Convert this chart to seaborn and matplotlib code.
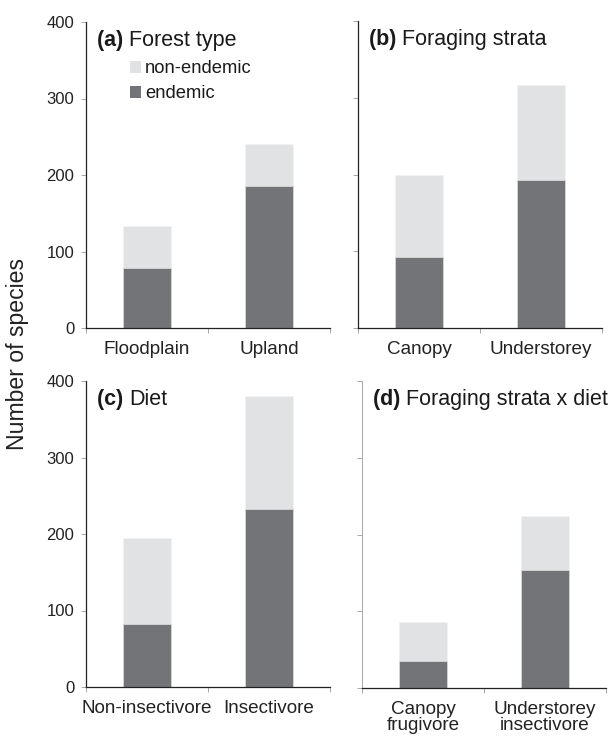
import matplotlib
matplotlib.use("Agg")
import matplotlib.pyplot as plt
from matplotlib.patches import Patch
from matplotlib.ticker import FixedLocator
import seaborn as sns

sns.set_theme(style="white")
plt.rcParams["font.family"] = ["Liberation Sans", "DejaVu Sans"]

# Species counts per group: total richness and endemic subset
forest_cats = ["Floodplain", "Upland"]
forest_total = [133, 240]
forest_endemic = [78, 185]

strata_cats = ["Canopy", "Understorey"]
strata_total = [200, 316]
strata_endemic = [92, 193]

diet_cats = ["Non-insectivore", "Insectivore"]
diet_total = [195, 380]
diet_endemic = [82, 233]

combo_cats = ["Canopy\nfrugivore", "Understorey\ninsectivore"]
combo_total = [86, 224]
combo_endemic = [35, 154]

panel_titles = [("(a)", "Forest type"), ("(b)", "Foraging strata"),
                ("(c)", "Diet"), ("(d)", "Foraging strata x diet")]
y_ticks = [0, 100, 200, 300, 400]
legend_labels = ["non-endemic", "endemic"]

LIGHT = "#e1e2e4"
DARK = "#737478"
AXIS = "#222222"

W, H = 611, 738
fig = plt.figure(figsize=(W / 100, H / 100), dpi=100)


def px_axes(x0, y0, x1, y1):
    return fig.add_axes([x0 / W, 1 - y1 / H, (x1 - x0) / W, (y1 - y0) / H])


axes = [
    px_axes(86, 22, 330, 328),
    px_axes(358, 21, 602, 328),
    px_axes(86, 381, 330, 687),
    px_axes(362, 381, 606, 688),
]

panels = [
    (forest_cats, forest_total, forest_endemic),
    (strata_cats, strata_total, strata_endemic),
    (diet_cats, diet_total, diet_endemic),
    (combo_cats, combo_total, combo_endemic),
]

for i, (ax, (cats, tot, end)) in enumerate(zip(axes, panels)):
    sns.barplot(x=cats, y=tot, color=LIGHT, width=0.4, saturation=1,
                edgecolor="#f2f2f2", linewidth=0.6, ax=ax)
    sns.barplot(x=cats, y=end, color=DARK, width=0.4, saturation=1,
                edgecolor="#d8d8d8", linewidth=0.6, ax=ax)
    ax.set_xlim(-0.5, 1.5)
    ax.set_ylim(0, 400)
    ax.set_xlabel("")
    ax.set_ylabel("")
    for side in ("top", "right"):
        ax.spines[side].set_visible(False)
    ax.spines["bottom"].set_color(AXIS)
    ax.spines["bottom"].set_linewidth(0.9)
    left_col = "#a8a8a8" if i == 3 else AXIS
    ax.spines["left"].set_color(left_col)
    ax.spines["left"].set_linewidth(0.9 if i != 3 else 0.7)

    # category labels centred, small tick marks at category boundaries
    ax.xaxis.set_minor_locator(FixedLocator([-0.5, 0.5, 1.5]))
    ax.tick_params(axis="x", which="major", length=0, pad=9.3,
                   labelsize=13.6, labelcolor="#222222")
    for lbl in ax.get_xticklabels():
        lbl.set_linespacing(0.95)
    ax.tick_params(axis="x", which="minor", length=3.5, width=0.6,
                   color="#999999", direction="out", bottom=True)
    ax.set_yticks(y_ticks)
    ax.tick_params(axis="y", which="major", length=3.5, width=0.6,
                   color="#999999", direction="out", left=True,
                   labelsize=12, labelcolor="#222222", pad=5)
    if i in (1, 3):
        ax.set_yticklabels([])
    ax.grid(False)

    tag, name = panel_titles[i]
    t = ax.text(0.045, 0.94, tag + " ", transform=ax.transAxes,
                fontsize=15.5, fontweight="bold", va="center", ha="left",
                color="#1a1a1a")
    ax.annotate(name, xycoords=t, xy=(1, 0.5), va="center", ha="left",
                fontsize=15.5, color="#1a1a1a")

handles = [Patch(facecolor=LIGHT, edgecolor="none"),
           Patch(facecolor=DARK, edgecolor="none")]
axes[0].legend(handles, legend_labels, loc="upper left",
               bbox_to_anchor=(0.18, 0.875), frameon=False, fontsize=13.2,
               handlelength=0.62, handleheight=0.62, handletextpad=0.2,
               labelspacing=0.45, borderpad=0, borderaxespad=0,
               labelcolor="#1a1a1a")

fig.text(18 / W, 1 - 354 / H, "Number of species", rotation=90,
         ha="center", va="center", fontsize=16.6, color="#222222")

fig.savefig("out.png", dpi=100)
